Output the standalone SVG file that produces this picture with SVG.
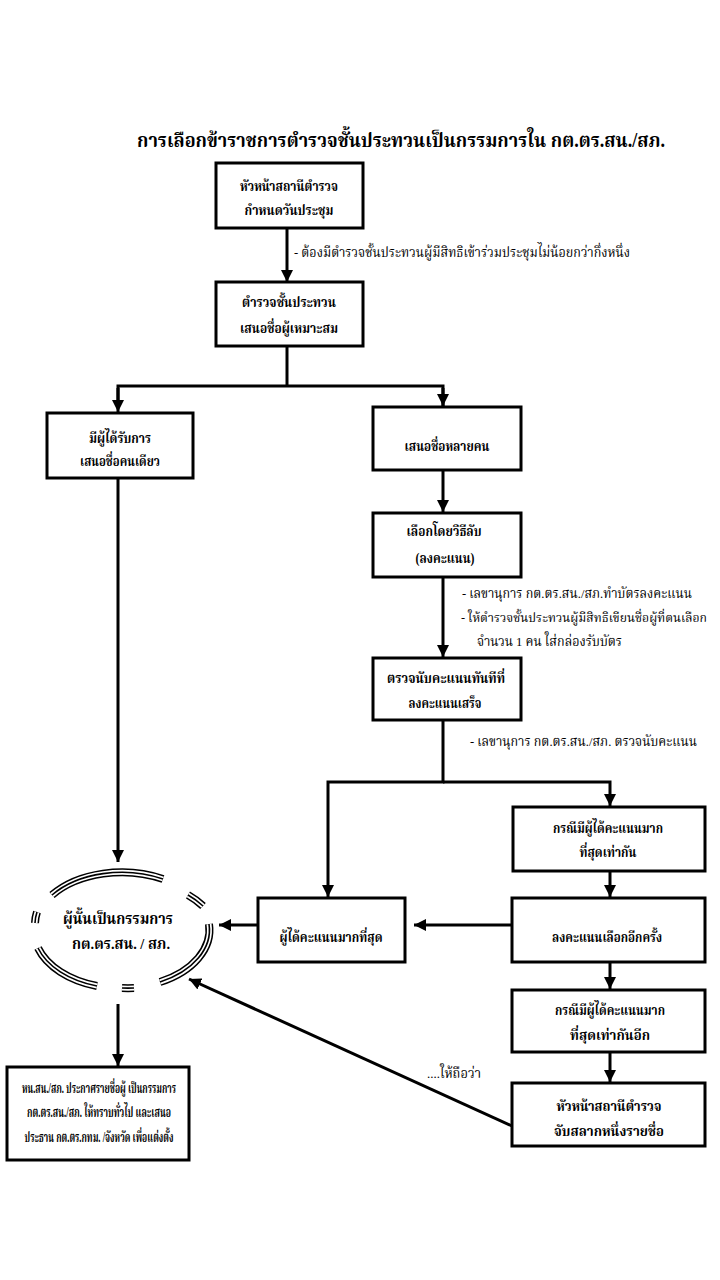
<svg xmlns="http://www.w3.org/2000/svg" width="720" height="1280" viewBox="0 0 720 1280">
<style>
.box{fill:#fff;stroke:#000;stroke-width:3}
text{font-family:"Liberation Serif","Noto Serif Thai","Noto Sans Thai",serif;fill:#000}
.t{font-weight:bold;font-size:14px;text-anchor:middle}
.a{font-size:13.5px}
.title{font-weight:bold;font-size:20px;text-anchor:middle}
.c{stroke:#000;stroke-width:3;fill:none}
.e1{stroke:#000;stroke-width:8;fill:none}
.e2{stroke:#fff;stroke-width:5;fill:none}
.e3{stroke:#000;stroke-width:1.6;fill:none}
</style>
<defs>
<marker id="arr" markerUnits="userSpaceOnUse" markerWidth="12" markerHeight="12" refX="12" refY="6" orient="auto">
<path d="M0,0 L12,6 L0,12 z" fill="#000"/>
</marker>
<path id="ell" d="M52,895 A88,58 0 0 1 163,879 M188,895 A88,58 0 0 1 203,906 M209,924 A88,58 0 0 1 160,982 M134,988 A88,58 0 0 1 122,988 M97,986 A88,58 0 0 1 38,948 M35,923 A88,58 0 0 1 37,912"/>
</defs>
<rect width="720" height="1280" fill="#fff"/>
<text class="title" x="401" y="147" textLength="528" lengthAdjust="spacingAndGlyphs">การเลือกข้าราชการตำรวจชั้นประทวนเป็นกรรมการใน กต.ตร.สน./สภ.</text>

<g id="connectors">
<line class="c" x1="287" y1="228" x2="287" y2="282" marker-end="url(#arr)"/>
<polyline class="c" points="287,346 287,386"/>
<polyline class="c" points="118,407 118,386 443,386 443,407" />
<line class="c" x1="118" y1="388" x2="118" y2="412" marker-end="url(#arr)"/>
<line class="c" x1="443" y1="388" x2="443" y2="406" marker-end="url(#arr)"/>
<line class="c" x1="118" y1="478" x2="118" y2="862" marker-end="url(#arr)"/>
<line class="c" x1="443" y1="470" x2="443" y2="512" marker-end="url(#arr)"/>
<line class="c" x1="443" y1="577" x2="443" y2="657" marker-end="url(#arr)"/>
<polyline class="c" points="443,720 443,782 328,782 328,897" marker-end="url(#arr)"/>
<polyline class="c" points="443,782 610,782 610,806" marker-end="url(#arr)"/>
<line class="c" x1="610" y1="872" x2="610" y2="897" marker-end="url(#arr)"/>
<line class="c" x1="512" y1="925" x2="414" y2="925" marker-end="url(#arr)"/>
<line class="c" x1="258" y1="925" x2="219" y2="925" marker-end="url(#arr)"/>
<line class="c" x1="610" y1="962" x2="610" y2="989" marker-end="url(#arr)"/>
<line class="c" x1="610" y1="1052" x2="610" y2="1082" marker-end="url(#arr)"/>
<line class="c" x1="512" y1="1126" x2="189" y2="979" marker-end="url(#arr)"/>
<line class="c" x1="118" y1="1004" x2="118" y2="1066" marker-end="url(#arr)"/>
</g>

<g id="notes">
<text class="a" x="294" y="257" textLength="336" lengthAdjust="spacingAndGlyphs">- ต้องมีตำรวจชั้นประทวนผู้มีสิทธิเข้าร่วมประชุมไม่น้อยกว่ากึ่งหนึ่ง</text>
<text class="a" x="462" y="598" textLength="230" lengthAdjust="spacingAndGlyphs">-  เลขานุการ กต.ตร.สน./สภ.ทำบัตรลงคะแนน</text>
<text class="a" x="461" y="622" style="font-size:12.5px" textLength="246" lengthAdjust="spacingAndGlyphs">- ให้ตำรวจชั้นประทวนผู้มีสิทธิเขียนชื่อผู้ที่ตนเลือก</text>
<text class="a" x="477" y="646" textLength="145" lengthAdjust="spacingAndGlyphs">จำนวน 1 คน ใส่กล่องรับบัตร</text>
<text class="a" x="470" y="746" textLength="227" lengthAdjust="spacingAndGlyphs">- เลขานุการ กต.ตร.สน./สภ. ตรวจนับคะแนน</text>
<text class="a" x="427" y="1078" textLength="54" lengthAdjust="spacingAndGlyphs">....ให้ถือว่า</text>
</g>

<g id="n1"><rect class="box" x="216" y="163" width="147" height="65"/>
<text class="t" x="289" y="191" textLength="98" lengthAdjust="spacingAndGlyphs">หัวหน้าสถานีตำรวจ</text><text class="t" x="289" y="215" textLength="89" lengthAdjust="spacingAndGlyphs">กำหนดวันประชุม</text></g>
<g id="n2"><rect class="box" x="216" y="282" width="147" height="64"/>
<text class="t" x="289" y="307" textLength="94" lengthAdjust="spacingAndGlyphs">ตำรวจชั้นประทวน</text><text class="t" x="289" y="333" textLength="98" lengthAdjust="spacingAndGlyphs">เสนอชื่อผู้เหมาะสม</text></g>
<g id="n3"><rect class="box" x="47" y="413" width="146" height="65"/>
<text class="t" x="120" y="443" textLength="62" lengthAdjust="spacingAndGlyphs">มีผู้ได้รับการ</text><text class="t" x="120" y="466" textLength="80" lengthAdjust="spacingAndGlyphs">เสนอชื่อคนเดียว</text></g>
<g id="n4"><rect class="box" x="373" y="407" width="148" height="63"/>
<text class="t" x="447" y="451" textLength="85" lengthAdjust="spacingAndGlyphs">เสนอชื่อหลายคน</text></g>
<g id="n5"><rect class="box" x="373" y="513" width="148" height="64"/>
<text class="t" x="444" y="536" textLength="75" lengthAdjust="spacingAndGlyphs">เลือกโดยวิธีลับ</text><text class="t" x="445" y="563" textLength="59" lengthAdjust="spacingAndGlyphs">(ลงคะแนน)</text></g>
<g id="n6"><rect class="box" x="373" y="658" width="148" height="62"/>
<text class="t" x="446" y="683" textLength="118" lengthAdjust="spacingAndGlyphs">ตรวจนับคะแนนทันทีที่</text><text class="t" x="445" y="708" textLength="73" lengthAdjust="spacingAndGlyphs">ลงคะแนนเสร็จ</text></g>
<g id="n7"><rect class="box" x="513" y="807" width="192" height="64"/>
<text class="t" x="608" y="833" textLength="110" lengthAdjust="spacingAndGlyphs">กรณีมีผู้ได้คะแนนมาก</text><text class="t" x="608" y="857" textLength="57" lengthAdjust="spacingAndGlyphs">ที่สุดเท่ากัน</text></g>
<g id="n8"><rect class="box" x="512" y="898" width="193" height="64"/>
<text class="t" x="607" y="942" textLength="110" lengthAdjust="spacingAndGlyphs">ลงคะแนนเลือกอีกครั้ง</text></g>
<g id="n9"><rect class="box" x="258" y="898" width="147" height="64"/>
<text class="t" x="331" y="942" textLength="103" lengthAdjust="spacingAndGlyphs">ผู้ได้คะแนนมากที่สุด</text></g>
<g id="n10"><rect class="box" x="512" y="990" width="193" height="62"/>
<text class="t" x="610" y="1015" textLength="110" lengthAdjust="spacingAndGlyphs">กรณีมีผู้ได้คะแนนมาก</text><text class="t" x="610" y="1040" textLength="80" lengthAdjust="spacingAndGlyphs">ที่สุดเท่ากันอีก</text></g>
<g id="n11"><rect class="box" x="512" y="1083" width="193" height="63"/>
<text class="t" x="609" y="1111" textLength="105" lengthAdjust="spacingAndGlyphs">หัวหน้าสถานีตำรวจ</text><text class="t" x="609" y="1136" textLength="110" lengthAdjust="spacingAndGlyphs">จับสลากหนึ่งรายชื่อ</text></g>
<g id="n12"><rect class="box" x="7" y="1067" width="182" height="93"/>
<text class="t" x="99" y="1093" textLength="154" lengthAdjust="spacingAndGlyphs">หน.สน./สภ. ประกาศรายชื่อผู้ เป็นกรรมการ</text>
<text class="t" x="99" y="1117" textLength="144" lengthAdjust="spacingAndGlyphs">กต.ตร.สน./สภ. ให้ทราบทั่วไป และเสนอ</text>
<text class="t" x="99" y="1142" textLength="149" lengthAdjust="spacingAndGlyphs">ประธาน  กต.ตร.กทม. /จังหวัด เพื่อแต่งตั้ง</text></g>
<g id="n13">
<use href="#ell" class="e1"/><use href="#ell" class="e2"/><use href="#ell" class="e3"/>
<text class="t" x="118" y="924" style="font-size:16px" textLength="110" lengthAdjust="spacingAndGlyphs">ผู้นั้นเป็นกรรมการ</text>
<text class="t" x="121" y="949" style="font-size:15px" textLength="98" lengthAdjust="spacingAndGlyphs">กต.ตร.สน. / สภ.</text>
</g>
</svg>
